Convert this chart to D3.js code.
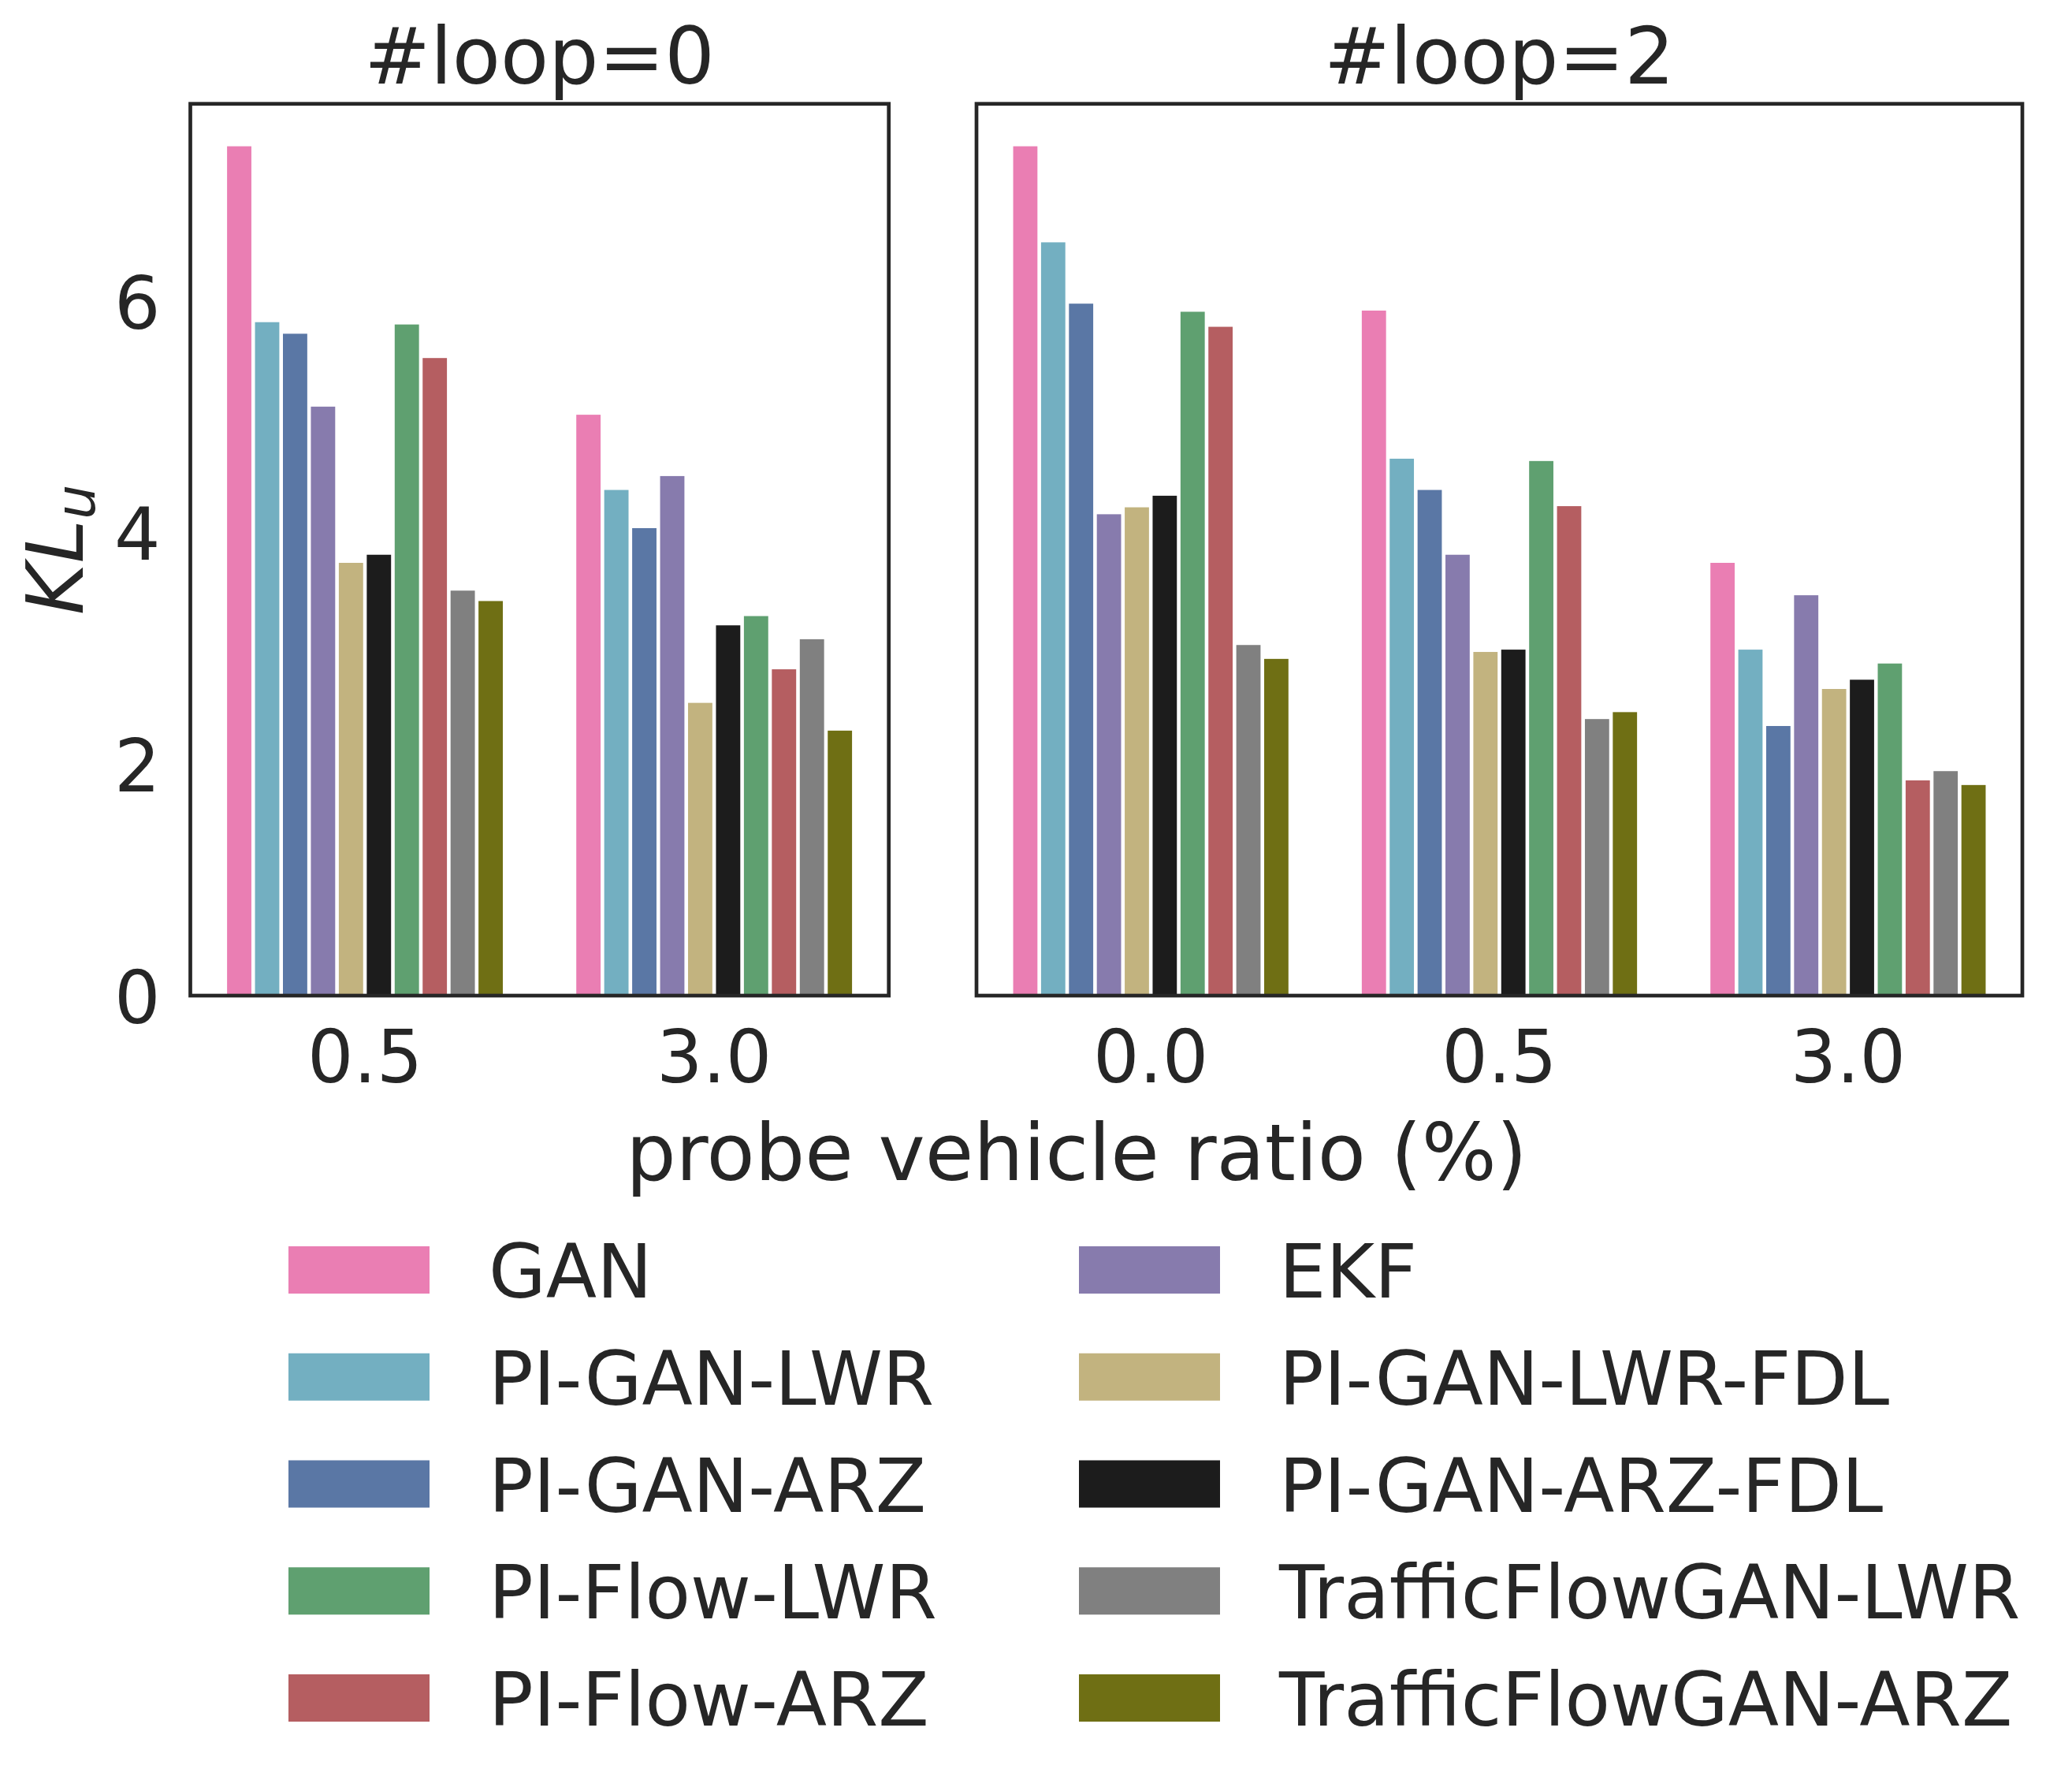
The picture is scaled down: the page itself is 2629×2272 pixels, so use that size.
<!DOCTYPE html>
<html>
<head>
<meta charset="utf-8">
<script src="https://cdn.jsdelivr.net/npm/d3@7"></script>
<style>
  body { margin: 0; background: #fff; }
  text { font-family: "DejaVu Sans", sans-serif; fill: #262626; }
</style>
</head>
<body>
<div id="chart"></div>
<script>
// methods in the order the bars are drawn
var methods = ["GAN", "PI-GAN-LWR", "PI-GAN-ARZ", "EKF", "PI-GAN-LWR-FDL",
  "PI-GAN-ARZ-FDL", "PI-Flow-LWR", "PI-Flow-ARZ", "TrafficFlowGAN-LWR", "TrafficFlowGAN-ARZ"];
var colors = ["#ea7eb3", "#73afc1", "#5a77a5", "#877bad", "#c2b37f",
  "#1c1c1c", "#5fa070", "#b55e61", "#808080", "#6f6f14"];
// legend goes column by column
var legendOrder = ["GAN", "PI-GAN-LWR", "PI-GAN-ARZ", "PI-Flow-LWR", "PI-Flow-ARZ",
  "EKF", "PI-GAN-LWR-FDL", "PI-GAN-ARZ-FDL", "TrafficFlowGAN-LWR", "TrafficFlowGAN-ARZ"];

var loop0Ratios = ["0.5", "3.0"];
var loop0Values = [
  [7.34, 5.82, 5.72, 5.09, 3.74, 3.81, 5.80, 5.51, 3.50, 3.41],
  [5.02, 4.37, 4.04, 4.49, 2.53, 3.20, 3.28, 2.82, 3.08, 2.29]
];
var loop2Ratios = ["0.0", "0.5", "3.0"];
var loop2Values = [
  [7.34, 6.51, 5.98, 4.16, 4.22, 4.32, 5.91, 5.78, 3.03, 2.91],
  [5.92, 4.64, 4.37, 3.81, 2.97, 2.99, 4.62, 4.23, 2.39, 2.45],
  [3.74, 2.99, 2.33, 3.46, 2.65, 2.73, 2.87, 1.86, 1.94, 1.82]
];
var yTicks = [0, 2, 4, 6];

var W = 2629, H = 2272;
var plotTop = 131.7, plotBottom = 1263;

var svg = d3.select("#chart")
  .append("svg")
  .attr("width", W)
  .attr("height", H)
  .style("display", "block");

var allMax = d3.max(loop0Values.concat(loop2Values), function(r) { return d3.max(r); });
var y = d3.scaleLinear()
  .domain([0, allMax * 1.05])
  .range([plotBottom, plotTop]);

var color = d3.scaleOrdinal().domain(methods).range(colors);

function panel(left, right, title, ratios, values, showY) {
  var g = svg.append("g");

  var x = d3.scaleBand()
    .domain(ratios)
    .range([left, right])
    .paddingInner(0.2)
    .paddingOuter(0.1);

  var xh = d3.scaleBand()
    .domain(methods)
    .range([0, x.bandwidth()]);

  var inset = 2.3;

  ratios.forEach(function(r, i) {
    g.selectAll(".bar" + i)
      .data(values[i])
      .enter()
      .append("rect")
      .attr("class", "bar" + i)
      .attr("x", function(d, j) { return x(r) + xh(methods[j]) + inset; })
      .attr("y", function(d) { return y(d); })
      .attr("width", xh.bandwidth() - 2 * inset)
      .attr("height", function(d) { return plotBottom - y(d); })
      .attr("fill", function(d, j) { return color(methods[j]); });
  });

  // frame
  g.append("rect")
    .attr("x", left)
    .attr("y", plotTop)
    .attr("width", right - left)
    .attr("height", plotBottom - plotTop)
    .attr("fill", "none")
    .attr("stroke", "#262626")
    .attr("stroke-width", 4.7);

  // x tick labels
  var xAxis = g.append("g")
    .attr("transform", "translate(0," + plotBottom + ")")
    .call(d3.axisBottom(x).tickSize(0).tickPadding(0));
  xAxis.select(".domain").remove();
  xAxis.selectAll("text")
    .attr("y", 110)
    .attr("dy", null)
    .style("font-size", "92px")
    .style("font-family", "DejaVu Sans")
    .attr("fill", "#262626");

  if (showY) {
    var yAxis = g.append("g")
      .attr("transform", "translate(" + left + ",0)")
      .call(d3.axisLeft(y).tickValues(yTicks).tickSize(0).tickPadding(0));
    yAxis.select(".domain").remove();
    yAxis.selectAll("text")
      .attr("x", -38)
      .attr("dy", "34px")
      .style("font-size", "92px")
      .style("font-family", "DejaVu Sans")
      .attr("fill", "#262626");
  }

  g.append("text")
    .attr("x", (left + right) / 2)
    .attr("y", 106)
    .attr("text-anchor", "middle")
    .style("font-size", "100px")
    .text(title);
}

panel(241.5, 1127.7, "#loop=0", loop0Ratios, loop0Values, true);
panel(1239, 2566, "#loop=2", loop2Ratios, loop2Values, false);

// y label KL_u
var yl = svg.append("text")
  .attr("transform", "translate(105," + ((plotTop + plotBottom) / 2) + ") rotate(-90)")
  .attr("text-anchor", "middle")
  .style("font-size", "100px")
  .style("font-style", "italic");
yl.append("tspan").text("KL");
yl.append("tspan")
  .attr("dy", 15)
  .style("font-size", "70px")
  .text("u");

// x label
svg.append("text")
  .attr("x", 1366)
  .attr("y", 1497)
  .attr("text-anchor", "middle")
  .style("font-size", "100px")
  .text("probe vehicle ratio (%)");

// legend
var legCol = d3.scaleOrdinal().domain([0, 1]).range([366, 1369]);
var legRow = d3.scaleLinear().domain([0, 4]).range([1611, 2154]);

var leg = svg.append("g")
  .selectAll("g")
  .data(legendOrder)
  .enter()
  .append("g")
  .attr("transform", function(d, i) {
    return "translate(" + legCol(Math.floor(i / 5)) + "," + legRow(i % 5) + ")";
  });

leg.append("rect")
  .attr("x", 0)
  .attr("y", -30)
  .attr("width", 179)
  .attr("height", 60)
  .attr("fill", function(d) { return color(d); });

leg.append("text")
  .attr("x", 254)
  .attr("y", 35)
  .style("font-size", "94px")
  .text(function(d) { return d; });
</script>
</body>
</html>
